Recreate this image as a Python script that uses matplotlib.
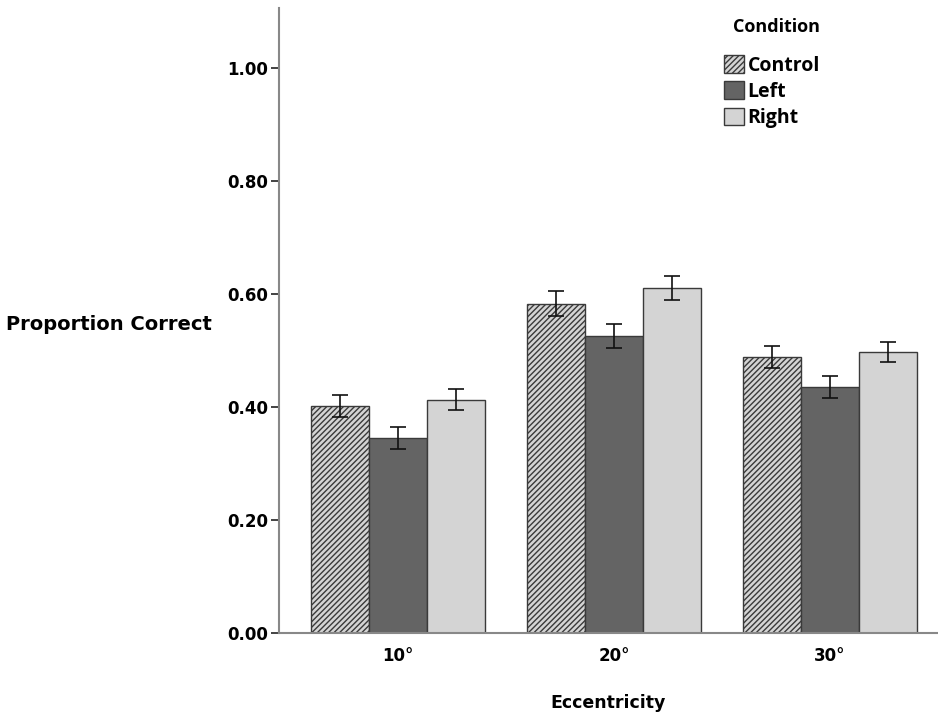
import numpy as np
import matplotlib.pyplot as plt
from matplotlib.patches import Patch

plt.rcParams['hatch.linewidth'] = 1.0
plt.rcParams['hatch.color'] = '#333333'

groups = ['10°', '20°', '30°']
conditions = ['Control', 'Left', 'Right']
control = [0.402, 0.583, 0.488]
left = [0.345, 0.526, 0.435]
right = [0.413, 0.611, 0.497]
control_err = [0.019, 0.022, 0.019]
left_err = [0.019, 0.021, 0.019]
right_err = [0.019, 0.021, 0.018]

fig = plt.figure(figsize=(9.38, 7.19), dpi=100)
ax = fig.add_axes([0.2974, 0.1196, 0.7026, 0.8693])

x = np.arange(len(groups))
w = 0.268
styles = [('#d4d4d4', '//////'), ('#646464', None), ('#d4d4d4', None)]
for i, (vals, errs) in enumerate([(control, control_err), (left, left_err), (right, right_err)]):
    fc, h = styles[i]
    ax.bar(x + (i - 1) * w, vals, w, color=fc, hatch=h, edgecolor='#3a3a3a', linewidth=1.0)
    ax.errorbar(x + (i - 1) * w, vals, yerr=errs, fmt='none', ecolor='#111111',
                elinewidth=1.2, capsize=6, capthick=1.2)

ax.set_xlim(-0.55, 2.5)
ax.set_ylim(0, 1.106)
ax.set_yticks([0, 0.2, 0.4, 0.6, 0.8, 1.0])
ax.set_yticklabels(['%.2f' % v for v in [0, 0.2, 0.4, 0.6, 0.8, 1.0]])
ax.set_xticks(x)
ax.set_xticklabels(groups)
for lab in ax.get_yticklabels() + ax.get_xticklabels():
    lab.set_fontweight('bold')
    lab.set_fontsize(12)
ax.tick_params(axis='y', length=6, width=1.2, color='#222222', pad=2)
ax.tick_params(axis='x', length=0, pad=10)
for s in ['top', 'right']:
    ax.spines[s].set_visible(False)
for s in ['left', 'bottom']:
    ax.spines[s].set_color('#888888')
    ax.spines[s].set_linewidth(1.5)

fig.text(0.006, 0.548, 'Proportion Correct', fontsize=14, fontweight='bold',
         family='DejaVu Sans', va='center', ha='left')
fig.text(0.648, 0.022, 'Eccentricity', fontsize=12.5, fontweight='bold',
         family='DejaVu Sans', va='center', ha='center')

handles = [Patch(facecolor=styles[i][0], hatch=styles[i][1], edgecolor='#3a3a3a', label=c)
           for i, c in enumerate(conditions)]
leg = ax.legend(handles=handles, title='Condition', loc='upper left',
                bbox_to_anchor=(0.655, 1.006), frameon=False,
                prop={'family': 'Open Sans', 'weight': 'bold', 'size': 14},
                handlelength=1.0, handleheight=1.0, handletextpad=0.2,
                labelspacing=0.3, borderaxespad=0.3)
leg.get_title().set_fontweight('bold')
leg.get_title().set_family('Open Sans')
leg.get_title().set_fontsize(13)
leg._legend_box.align = 'right'
leg._legend_box.sep = 14

fig.savefig('out.png', dpi=100)
